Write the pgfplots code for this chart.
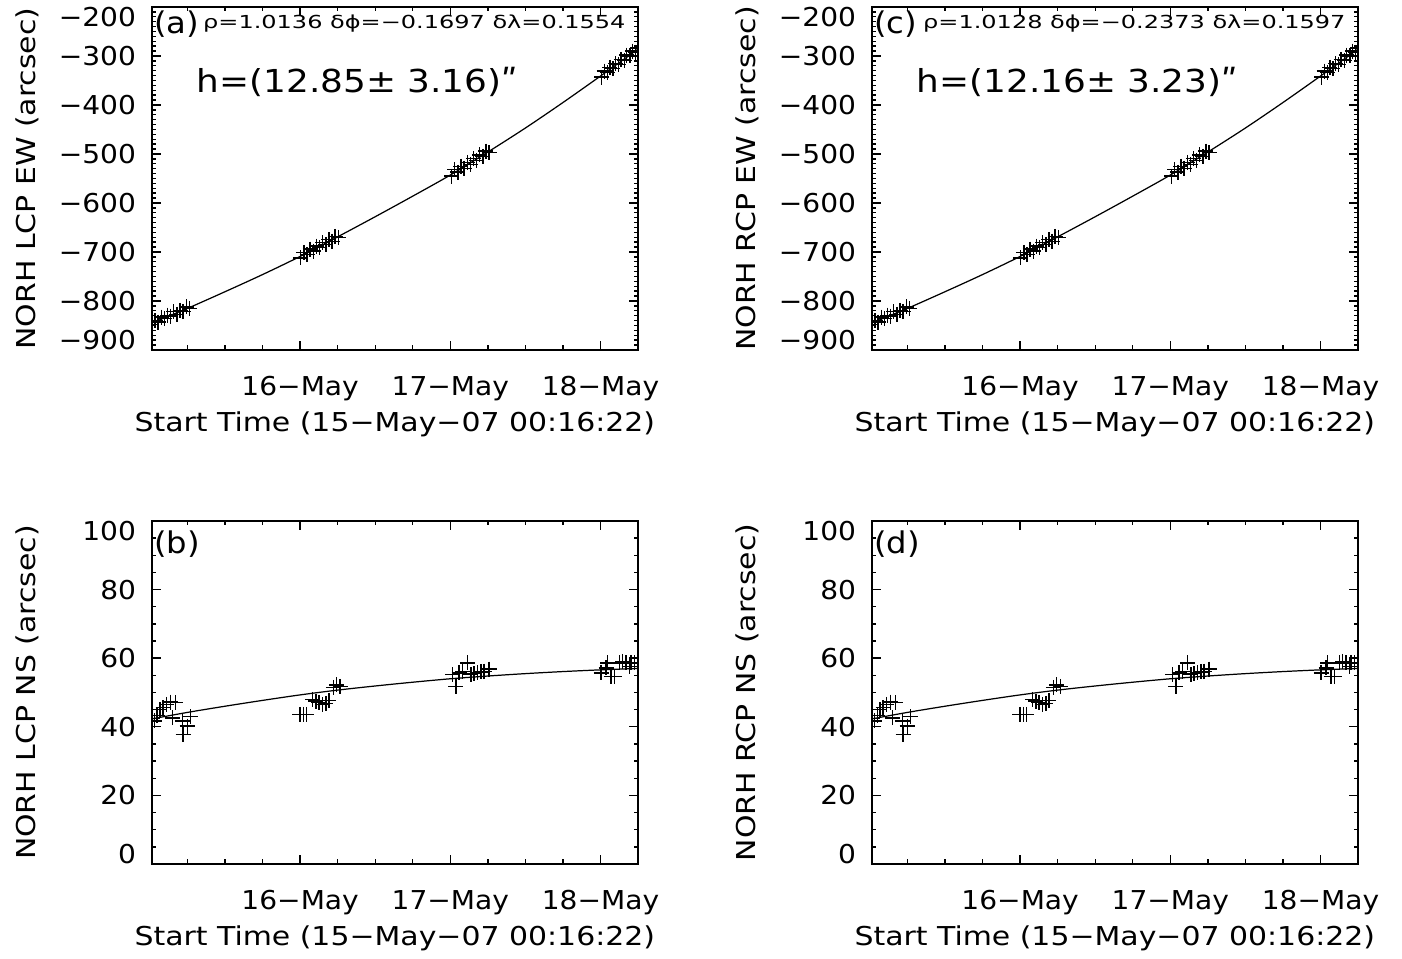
\documentclass[border=0pt]{standalone}
\usepackage{fontspec}
\setmainfont{DejaVu Sans}[FakeStretch=1.08]
\usepackage{graphicx}
\usepackage{pgfplots}
\usepackage{pgfplotstable}
\pgfplotsset{compat=1.18}

\newcommand\mainsz{\fontsize{7.4pt}{8.8pt}\selectfont}
\newcommand\smallsz{\fontsize{5.1pt}{6pt}\selectfont}
\newcommand\panelsz{\fontsize{8.5pt}{10pt}\selectfont}
\newcommand\hsz{\fontsize{9pt}{10.8pt}\selectfont}
% end labels sit a little inside the box, as in the IDL original
\newcommand\ylo[1]{\smash{\raisebox{\dimexpr1mm-0.365em\relax}{#1}}}
\newcommand\yhi[1]{\smash{\raisebox{\dimexpr-1mm-0.365em\relax}{#1}}}
\newcommand\wide[1]{\scalebox{1.065}[1]{#1}}

% hours since 15-May-07 00:00
\pgfplotstableread{
h v
0.27 -845
6 -815
12 -781
18 -746
24 -709
30 -669
36 -628
42 -586
48 -543
54 -496
60 -447
66 -395
72 -341
78 -286
}\ewfit

\pgfplotstableread{
h v
0.3 -848
0.8 -840
1.3 -843
1.8 -833
2.3 -836
2.8 -829
3.3 -831
3.8 -822
4.3 -827
4.8 -819
5.3 -821
5.8 -812
6.3 -815
24.1 -712
24.6 -701
25.1 -705
25.6 -694
26.1 -698
26.6 -688
27.1 -691
27.6 -681
28.1 -685
28.6 -675
29.1 -678
29.6 -668
30.1 -670
48.2 -545
48.7 -532
49.2 -537
49.7 -525
50.2 -529
50.7 -517
51.2 -521
51.7 -509
52.2 -513
52.7 -502
53.2 -505
53.7 -494
54.2 -497
72.2 -343
72.6 -331
73.1 -334
73.5 -323
74.0 -326
74.4 -315
74.9 -317
75.3 -307
75.8 -309
76.2 -298
76.7 -300
77.1 -290
77.6 -292
77.95 -284
}\ewdata

\pgfplotstableread{
h v
0.27 42.3
6 44.2
12 46.0
18 47.7
24 49.3
30 50.7
36 51.9
42 53.0
48 54.0
54 54.8
60 55.5
66 56.1
72 56.6
78 57.0
}\nsfit

\pgfplotstableread{
h v
0.4 42.5
0.72 41.7
1.15 43.3
1.57 45.0
2.1 45.6
2.64 46.5
3.28 47.2
3.55 42.6
4.08 47.0
5.15 41.7
5.3 37.8
5.95 40.2
6.5 43.0
23.97 43.6
24.5 43.6
25.0 43.6
25.95 48.0
26.5 47.5
27.0 47.0
27.55 46.5
28.1 46.8
28.6 47.6
29.3 51.5
29.85 52.2
30.4 51.8
48.35 55.2
48.9 51.8
49.4 55.7
49.95 56.2
50.75 58.6
51.3 55.2
51.8 55.5
52.35 55.8
52.9 56.0
53.4 56.2
54.2 56.8
72.1 55.7
72.9 57.2
73.15 58.6
73.7 54.7
74.2 54.7
75.0 58.6
75.55 59.1
76.1 58.6
76.6 57.5
76.9 58.8
77.4 58.6
77.9 58.8
}\nsdata

\pgfplotsset{
  idl/.style={
    scale only axis, width=48.63mm, height=34.3mm,
    xmin=0.27, xmax=78,
    xtick={24,48,72}, xticklabels={16−May,17−May,18−May},
    minor xtick={6,12,18,30,36,42,54,60,66},
    tick align=inside, tick pos=both,
    xticklabel pos=bottom, yticklabel pos=left,
    major tick length=0.9mm, minor tick length=0.45mm,
    every tick/.style={black, line width=0.4pt},
    axis line style={line width=0.5pt},
    clip marker paths=true,
    font=\mainsz,
    tick label style={font=\mainsz},
    label style={font=\mainsz},
    xticklabel style={anchor=base, inner sep=0pt, yshift=-4.55mm},
    yticklabel style={anchor=east, inner sep=0pt, xshift=-1.5mm},
    xlabel={\wide{Start Time (15−May−07 00:16:22)}},
    xlabel style={at={(axis description cs:0.5,0)}, anchor=base, inner sep=0pt, yshift=-8.15mm},
    ylabel style={at={(axis description cs:-0.238,0.5)}, anchor=base, inner sep=0pt},
  },
  ewax/.style={idl, ymin=-900, ymax=-200, ytick={-900,-800,...,-200},
    yticklabels={\ylo{−900},−800,−700,−600,−500,−400,−300,\yhi{−200}},
    minor y tick num=9},
  nsax/.style={idl, ymin=0, ymax=100, ytick={0,20,...,100},
    yticklabels={\ylo{0},20,40,60,80,\yhi{100}},
    minor y tick num=3},
  fitline/.style={black, line width=0.35pt, no marks, smooth},
  pts/.style={only marks, mark=+, mark size=0.75mm, mark options={line width=0.4pt, black}},
}

\begin{document}
\mainsz
\begin{tikzpicture}
\path (0,0) rectangle (140.2mm,-95.9mm);

\begin{axis}[ewax, at={(15.17mm,-0.7mm)}, anchor=north west, ylabel={\wide{NORH LCP EW (arcsec)}}]
\addplot[fitline] table {\ewfit};
\addplot[pts] table {\ewdata};
\end{axis}

\begin{axis}[nsax, at={(15.17mm,-52.1mm)}, anchor=north west, ylabel={\wide{NORH LCP NS (arcsec)}}]
\addplot[fitline] table {\nsfit};
\addplot[pts] table {\nsdata};
\end{axis}

\begin{axis}[ewax, at={(87.17mm,-0.7mm)}, anchor=north west, ylabel={\wide{NORH RCP EW (arcsec)}}]
\addplot[fitline] table {\ewfit};
\addplot[pts] table {\ewdata};
\end{axis}

\begin{axis}[nsax, at={(87.17mm,-52.1mm)}, anchor=north west, ylabel={\wide{NORH RCP NS (arcsec)}}]
\addplot[fitline] table {\nsfit};
\addplot[pts] table {\nsdata};
\end{axis}

\node[anchor=base west, inner sep=0pt, font=\panelsz] at (15.36mm,-3.35mm) {(a)};
\node[anchor=base west, inner sep=0pt, font=\smallsz] at (20.25mm,-2.85mm) {\scalebox{1.24}[1]{ρ=1.0136 δϕ=−0.1697 δλ=0.1554}};
\node[anchor=base west, inner sep=0pt, font=\hsz] at (19.6mm,-9.3mm) {\scalebox{1.05}[1]{h=(12.85± 3.16)ʺ}};

\node[anchor=base west, inner sep=0pt, font=\panelsz] at (15.36mm,-55.4mm) {(b)};

\node[anchor=base west, inner sep=0pt, font=\panelsz] at (87.36mm,-3.35mm) {(c)};
\node[anchor=base west, inner sep=0pt, font=\smallsz] at (92.25mm,-2.85mm) {\scalebox{1.24}[1]{ρ=1.0128 δϕ=−0.2373 δλ=0.1597}};
\node[anchor=base west, inner sep=0pt, font=\hsz] at (91.6mm,-9.3mm) {\scalebox{1.05}[1]{h=(12.16± 3.23)ʺ}};

\node[anchor=base west, inner sep=0pt, font=\panelsz] at (87.36mm,-55.4mm) {(d)};
\end{tikzpicture}
\end{document}
